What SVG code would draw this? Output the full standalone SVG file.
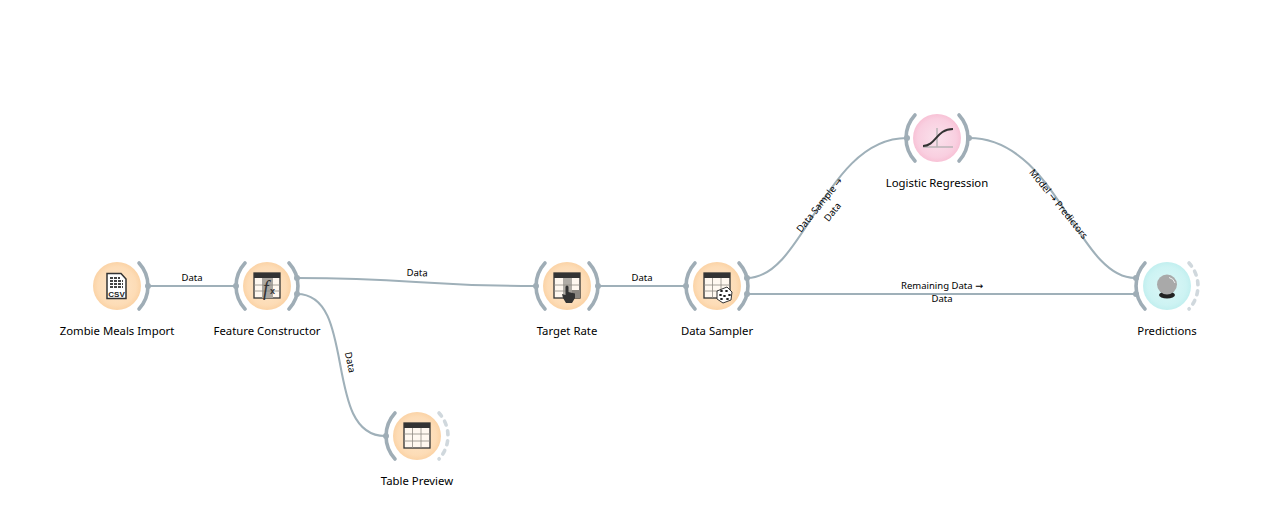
<svg xmlns="http://www.w3.org/2000/svg" width="1266" height="516" viewBox="0 0 1266 516">
<style>
text{font-family:"Noto Sans","DejaVu Sans",sans-serif;fill:#000}
.cap{font-size:11.350px;text-anchor:middle}
.lab{font-size:9.500px;text-anchor:middle}
.e{fill:none;stroke:#9fb0b9;stroke-width:2.100}
.arc{fill:none;stroke:#9fadb6;stroke-width:3.600;stroke-linecap:round}
.off{fill:none;stroke:#d0d8dd;stroke-width:3.600;stroke-linecap:round;stroke-dasharray:4 6}
.dot{fill:#9fadb6}
.or{fill:url(#gO)}.pk{fill:url(#gP)}.tl{fill:url(#gT)}
.tb{fill:#fff;fill-opacity:.75;stroke:#333;stroke-width:1.300}
.hd{fill:#333}
.gr{stroke:#8f8a84;stroke-width:.8;fill:none}
</style>
<defs>
<radialGradient id="gO"><stop offset="0" stop-color="#fee6ca"/><stop offset=".8" stop-color="#fddcb6"/><stop offset="1" stop-color="#fbd3a6"/></radialGradient>
<radialGradient id="gP"><stop offset="0" stop-color="#fae2ec"/><stop offset=".8" stop-color="#f9cfe0"/><stop offset="1" stop-color="#f8c2d6"/></radialGradient>
<radialGradient id="gT"><stop offset="0" stop-color="#dcf7f7"/><stop offset=".8" stop-color="#cdf3f3"/><stop offset="1" stop-color="#c2efef"/></radialGradient>
</defs>
<g id="connectors">
<path class="e" d="M148 286H236"/>
<path class="e" d="M297 278C416 278 416 286 535 286"/>
<path class="e" d="M297 294C358 294 322 436 385 436"/>
<path class="e" d="M598 286H685"/>
<path class="e" d="M747 278C805 278 825 138 907 138"/>
<path class="e" d="M747 294H1135"/>
<path class="e" d="M969 138C1057 138 1077 278 1135 278"/>
<text class="lab" x="192" y="280.500">Data</text>
<text class="lab" transform="translate(417 276) rotate(1.900)">Data</text>
<text class="lab" transform="translate(347 363) rotate(78)">Data</text>
<text class="lab" x="642" y="280.500">Data</text>
<text class="lab" transform="translate(822 207) rotate(-51)">Data Sample →</text>
<text class="lab" transform="translate(835 214) rotate(-51)">Data</text>
<text class="lab" x="942" y="289">Remaining Data →</text>
<text class="lab" x="942" y="302">Data</text>
<text class="lab" transform="translate(1056 206) rotate(51)">Model → Predictors</text>
</g>
<g id="zombie-meals-import">
<circle class="or" cx="117" cy="286" r="24"/>
<path class="arc" d="M139 263A34 34 0 0 1 139 309"/><circle class="dot" cx="148" cy="286" r="3"/>
<path d="M107 273.500H121L126 279V298.500H107Z" fill="#fff" stroke="#333" stroke-width="1.500"/>
<path d="M110 278h10M110 281h13M110 284h13M110 287h13" stroke="#444" stroke-width="1.800" stroke-dasharray="3 1"/>
<text x="116.500" y="297" font-size="8" font-weight="700" text-anchor="middle" style="fill:#222;font-family:'Liberation Sans',sans-serif">CSV</text>
<text class="cap" x="117" y="335">Zombie Meals Import</text>
</g>
<g id="feature-constructor">
<circle class="or" cx="267" cy="286" r="24"/>
<path class="arc" d="M245 263A34 34 0 0 0 245 309M289 263A34 34 0 0 1 289 309"/>
<circle class="dot" cx="236" cy="286" r="3"/><circle class="dot" cx="297" cy="278" r="3"/><circle class="dot" cx="297" cy="294" r="3"/>
<rect class="tb" x="254" y="273" width="26" height="25"/><rect x="262" y="278" width="11" height="20" fill="#aaa6a0"/>
<rect class="hd" x="254" y="273" width="26" height="5"/>
<path class="gr" d="M254 285H280M254 291H280"/>
<text x="263" y="295" font-size="20" font-style="italic" style="font-family:'Liberation Serif',serif;fill:#333">f</text>
<text x="270" y="294" font-size="9" font-weight="700" style="font-family:'Liberation Sans',sans-serif;fill:#333">x</text>
<text class="cap" x="267" y="335">Feature Constructor</text>
</g>
<g id="table-preview">
<circle class="or" cx="417" cy="436" r="24"/>
<path class="arc" d="M395 413A34 34 0 0 0 395 459"/><path class="off" d="M439 413A34 34 0 0 1 439 459"/>
<circle class="dot" cx="386" cy="436" r="3"/>
<rect class="tb" x="404" y="423" width="26" height="25"/><rect class="hd" x="404" y="423" width="26" height="5"/>
<path class="gr" d="M404 434H430M404 441H430M412.500 428V448M421 428V448"/>
<text class="cap" x="417" y="485">Table Preview</text>
</g>
<g id="target-rate">
<circle class="or" cx="567" cy="286" r="24"/>
<path class="arc" d="M545 263A34 34 0 0 0 545 309M589 263A34 34 0 0 1 589 309"/>
<circle class="dot" cx="536" cy="286" r="3"/><circle class="dot" cx="598" cy="286" r="3"/>
<rect class="tb" x="554" y="273" width="26" height="25"/><rect x="563" y="278" width="9" height="20" fill="#b0aca6"/><rect x="572" y="290" width="8" height="8" fill="#8a8680"/>
<rect class="hd" x="554" y="273" width="26" height="5"/>
<path class="gr" d="M554 285H580M554 291H580"/>
<path d="M565.500 287a1.500 1.500 0 0 1 3 0V292L575 293.500V298L572 303H566L563 298L562 294L565.500 295Z" fill="#333"/>
<text class="cap" x="567" y="335">Target Rate</text>
</g>
<g id="data-sampler">
<circle class="or" cx="717" cy="286" r="24"/>
<path class="arc" d="M695 263A34 34 0 0 0 695 309M739 263A34 34 0 0 1 739 309"/>
<circle class="dot" cx="686" cy="286" r="3"/><circle class="dot" cx="747" cy="278" r="3"/><circle class="dot" cx="747" cy="294" r="3"/>
<rect class="tb" x="704" y="273" width="26" height="25"/><rect class="hd" x="704" y="273" width="26" height="5"/>
<path class="gr" d="M704 285H730M704 291H730M712.500 278V298M721 278V298"/>
<path d="M717 291L727 287L732 292L731 300L723 303L717 299Z" fill="#fff" stroke="#333"/>
<path d="M721 291h1M726 291h1M720 295h1M724 296h1M729 295h1M721 299h1M727 299h1" stroke="#222" stroke-width="1.800" stroke-linecap="round"/>
<text class="cap" x="717" y="335">Data Sampler</text>
</g>
<g id="logistic-regression">
<circle class="pk" cx="937" cy="138" r="24"/>
<path class="arc" d="M915 115A34 34 0 0 0 915 161M959 115A34 34 0 0 1 959 161"/>
<circle class="dot" cx="907" cy="138" r="3"/><circle class="dot" cx="969" cy="138" r="3"/>
<path d="M923 147H953M937 128V147" stroke="#b9b4b6" stroke-width="1.500" fill="none"/>
<path d="M923 146C936 146 936 129 953 129" stroke="#333" stroke-width="2" fill="none"/>
<text class="cap" x="937" y="187">Logistic Regression</text>
</g>
<g id="predictions">
<circle class="tl" cx="1167" cy="286" r="24"/>
<path class="arc" d="M1145 263A34 34 0 0 0 1145 309"/><path class="off" d="M1189 263A34 34 0 0 1 1189 309"/>
<circle class="dot" cx="1136" cy="278" r="3"/><circle class="dot" cx="1136" cy="294" r="3"/>
<ellipse cx="1167" cy="295" rx="8" ry="3.500" fill="#222"/>
<circle cx="1167" cy="284.500" r="10" fill="#a9a9a9"/><path d="M1169 277.500A8 8 0 0 1 1175 283" stroke="#eee" fill="none"/>
<text class="cap" x="1167" y="335">Predictions</text>
</g>
</svg>
